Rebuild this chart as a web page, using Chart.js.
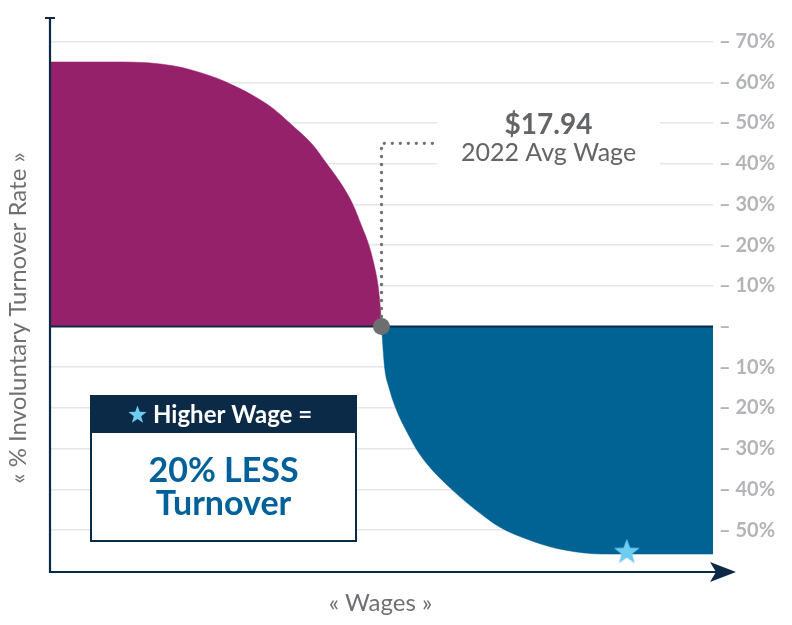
<!DOCTYPE html>
<html>
<head>
<meta charset="utf-8">
<script src="https://cdn.jsdelivr.net/npm/chart.js@4.4.1/dist/chart.umd.min.js"></script>
<style>
  html, body { margin: 0; padding: 0; background: #ffffff; }
  #wrap { width: 792px; height: 625px; position: relative; }
</style>
</head>
<body>
<div id="wrap"><canvas id="c"></canvas></div>
<script>
// ---- data ----
const purpleX = [0, 11.0, 18.55, 24.13, 26.4, 30.62, 33.63, 36.2, 39.67, 41.78, 44.12, 45.7, 46.98, 48.11, 48.9, 49.49, 49.85, 50];
const purpleY = [65, 65, 64.07, 61.63, 60.17, 56.76, 53.59, 49.93, 44.56, 39.93, 34.56, 29.93, 24.8, 19.93, 15.05, 9.93, 4.07, 0];
const blueX = [50, 50.48, 51.13, 52.23, 54.56, 55.25, 57.09, 60.78, 63.95, 67.87, 72.4, 76.43, 81.9, 84.46, 100];
const blueY = [0, -10.2, -15.0, -20.4, -28.1, -30.1, -34.2, -40.3, -44.7, -49.3, -52.5, -54.5, -55.8, -55.9, -55.9];
const tickValues = [-50, -40, -30, -20, -10, 0, 10, 20, 30, 40, 50, 60, 70];
const avgWage = 50;            // position of the 2022 average wage on the wage axis
const avgWageLabel = '$17.94';
const avgWageSub = '2022 Avg Wage';
const leaderY = 45;            // height of the dotted leader line
const leaderEndX = 58.1;
const starPoint = { x: 87, y: -55.2 };
const yTitle = '« % Involuntary Turnover Rate »';
const xTitle = '« Wages »';
const boxHeader = 'Higher Wage =';
const boxLines = ['20% LESS', 'Turnover'];

const PURPLE = '#96216b';
const BLUE = '#006394';
const NAVY = '#0c2a47';
const GREY = '#6f7073';
const TICK = '#b3b4b7';
const STAR = '#6dcdf0';
const FONT = 'Lato, "Open Sans", sans-serif';

function starPath(ctx, cx, cy, ro, ri) {
  ctx.beginPath();
  for (let i = 0; i < 10; i++) {
    const r = i % 2 === 0 ? ro : ri;
    const a = -Math.PI / 2 + i * Math.PI / 5;
    const px = cx + r * Math.cos(a), py = cy + r * Math.sin(a);
    if (i === 0) ctx.moveTo(px, py); else ctx.lineTo(px, py);
  }
  ctx.closePath();
}

const starCanvas = document.createElement('canvas');
starCanvas.width = 30; starCanvas.height = 30;
{
  const sc = starCanvas.getContext('2d');
  sc.fillStyle = STAR;
  starPath(sc, 15, 16, 13.5, 5.6);
  sc.fill();
}

const decor = {
  id: 'decor',
  beforeDatasetsDraw(chart) {
    const { ctx } = chart;
    // white knock-out behind the annotation text
    ctx.save();
    ctx.fillStyle = '#ffffff';
    ctx.fillRect(437, 100, 223, 74);
    ctx.restore();
  },
  afterDraw(chart) {
    const { ctx, chartArea } = chart;
    ctx.save();
    // left axis with cap
    ctx.strokeStyle = NAVY;
    ctx.lineWidth = 2.2;
    ctx.beginPath();
    ctx.moveTo(chartArea.left, chartArea.top);
    ctx.lineTo(chartArea.left, chartArea.bottom + 1);
    ctx.moveTo(chartArea.left - 5, chartArea.top);
    ctx.lineTo(chartArea.left + 5, chartArea.top);
    ctx.stroke();
    // bottom axis with arrow
    ctx.beginPath();
    ctx.moveTo(chartArea.left - 1, chartArea.bottom);
    ctx.lineTo(chartArea.right + 6, chartArea.bottom);
    ctx.stroke();
    ctx.fillStyle = NAVY;
    ctx.beginPath();
    ctx.moveTo(736, chartArea.bottom);
    ctx.lineTo(710, chartArea.bottom - 10);
    ctx.lineTo(716, chartArea.bottom);
    ctx.lineTo(710, chartArea.bottom + 10);
    ctx.closePath();
    ctx.fill();

    // annotation text
    const cx = 548.5;
    ctx.fillStyle = '#636466';
    ctx.textAlign = 'center';
    ctx.textBaseline = 'alphabetic';
    ctx.font = `bold 28px ${FONT}`;
    ctx.fillText(avgWageLabel, cx, 134);
    ctx.font = `25px ${FONT}`;
    ctx.fillText(avgWageSub, cx, 161);

    // callout box
    ctx.fillStyle = '#ffffff';
    ctx.fillRect(90, 395, 267, 147);
    ctx.fillStyle = '#0b2a47';
    ctx.fillRect(90, 395, 267, 38);
    ctx.strokeStyle = '#0b2a47';
    ctx.lineWidth = 2;
    ctx.strokeRect(91, 396, 265, 145);
    ctx.fillStyle = STAR;
    starPath(ctx, 137.5, 415, 9.5, 3.9);
    ctx.fill();
    ctx.fillStyle = '#ffffff';
    ctx.textAlign = 'left';
    ctx.font = `bold 24px ${FONT}`;
    ctx.fillText(boxHeader, 153, 423);
    ctx.fillStyle = '#00609a';
    ctx.textAlign = 'center';
    ctx.font = `bold 34px ${FONT}`;
    ctx.fillText(boxLines[0], 223.5, 482);
    ctx.fillText(boxLines[1], 223.5, 515);

    // axis titles
    ctx.fillStyle = GREY;
    ctx.font = `24px ${FONT}`;
    ctx.textBaseline = 'middle';
    ctx.fillText(xTitle, 380.5, 603);
    ctx.translate(18, 318);
    ctx.rotate(-Math.PI / 2);
    ctx.fillText(yTitle, 0, 0);
    ctx.restore();
  }
};

new Chart(document.getElementById('c'), {
  type: 'line',
  data: {
    datasets: [
      {
        label: 'marker',
        data: [{ x: avgWage, y: 0 }],
        showLine: false,
        pointRadius: 8.5,
        pointBackgroundColor: '#6d6e71',
        pointBorderWidth: 0,
        order: 0
      },
      {
        label: 'star',
        data: [starPoint],
        showLine: false,
        pointStyle: starCanvas,
        order: 0
      },
      {
        label: 'leader',
        data: [{ x: avgWage, y: 0.5 }, { x: avgWage, y: leaderY }, { x: leaderEndX, y: leaderY }],
        borderColor: '#707070',
        borderWidth: 3.4,
        borderDash: [0, 8],
        borderCapStyle: 'round',
        pointRadius: 0,
        fill: false,
        tension: 0,
        order: 1
      },
      {
        label: 'zero',
        data: [{ x: 0, y: 0 }, { x: 100, y: 0 }],
        borderColor: NAVY,
        borderWidth: 2,
        pointRadius: 0,
        fill: false,
        order: 1
      },
      {
        label: 'below-average wages',
        data: purpleX.map((v, i) => ({ x: v, y: purpleY[i] })),
        backgroundColor: PURPLE,
        borderColor: PURPLE,
        borderWidth: 0.5,
        pointRadius: 0,
        fill: 'origin',
        cubicInterpolationMode: 'monotone',
        order: 2
      },
      {
        label: 'above-average wages',
        data: blueX.map((v, i) => ({ x: v, y: blueY[i] })),
        backgroundColor: BLUE,
        borderColor: BLUE,
        borderWidth: 0.5,
        pointRadius: 0,
        fill: 'origin',
        cubicInterpolationMode: 'monotone',
        order: 2
      }
    ]
  },
  options: {
    responsive: true,
    maintainAspectRatio: false,
    animation: false,
    layout: { padding: { left: 50, top: 14, bottom: 53, right: 0 } },
    plugins: { legend: { display: false }, tooltip: { enabled: false } },
    scales: {
      x: { type: 'linear', min: 0, max: 100, display: false },
      y: {
        position: 'right',
        min: -60.3,
        max: 75.8,
        afterBuildTicks(axis) { axis.ticks = tickValues.map(v => ({ value: v })); },
        afterFit(axis) { axis.width = 79; },
        border: { display: false },
        grid: {
          drawTicks: false,
          color: ctx => (ctx.tick && ctx.tick.value === 0) ? 'rgba(0,0,0,0)' : '#e6e6e6',
          lineWidth: 1.6
        },
        ticks: {
          padding: 6,
          color: TICK,
          font: { family: FONT, size: 20, weight: 'bold' },
          callback: v => v === 0 ? '–' : '– ' + Math.abs(v) + '%'
        }
      }
    }
  },
  plugins: [decor]
});
</script>
</body>
</html>
